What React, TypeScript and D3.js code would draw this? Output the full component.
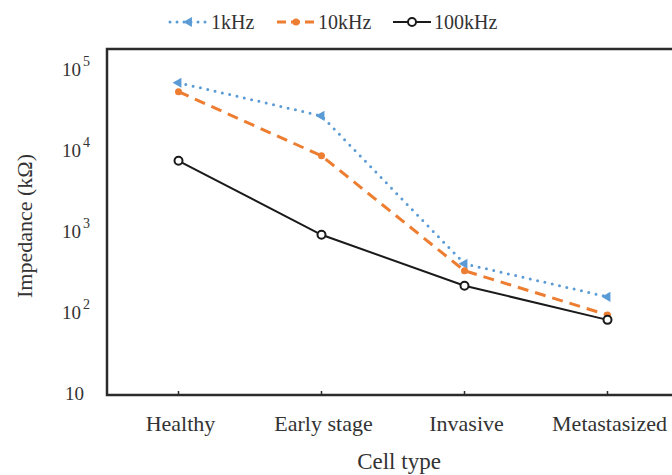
import * as d3 from "d3";

const categories = ["Healthy", "Early stage", "Invasive", "Metastasized"];
const seriesNames = ["1kHz", "10kHz", "100kHz"];
const values1k = [67600, 26400, 394, 154];
const values10k = [52400, 8480, 323, 92];
const values100k = [7360, 898, 211, 80];
const yTicks = [10, 100, 1000, 10000, 100000];

const W = 672;
const H = 475;
const left = 107;
const right = 679;
const top = 49;
const bottom = 395;
const font = "'Liberation Serif', 'Times New Roman', serif";

const x = d3.scalePoint<string>().domain(categories).range([left, right]).padding(0.5);
const y = d3.scaleLog().domain([10, 100000]).range([393, 69]);

const line = d3
  .line<number>()
  .x((_, i) => x(categories[i]) as number)
  .y((d) => y(d));

const styles = [
  { color: "#5b9bd5", width: 3, dash: "0 7.5", cap: "round" },
  { color: "#ed7d31", width: 3, dash: "11 7", cap: "butt" },
  { color: "#1a1a1a", width: 2, dash: "none", cap: "butt" },
];
const series = [values1k, values10k, values100k];

const tri = d3.symbol().type(d3.symbolTriangle).size(45)();

function Marker({ k, cx, cy }: { k: number; cx: number; cy: number }) {
  if (k === 0)
    return <path d={tri as string} transform={`translate(${cx},${cy}) rotate(-90)`} fill="#5b9bd5" />;
  if (k === 1) return <circle cx={cx} cy={cy} r={3.5} fill="#ed7d31" />;
  return <circle cx={cx} cy={cy} r={4} fill="#fff" stroke="#1a1a1a" strokeWidth={2} />;
}

const legendX = [170, 277, 393];

export default function App() {
  return (
    <div style={{ position: "absolute", left: 0, top: 0 }}>
      <svg width={W} height={H} style={{ display: "block", background: "#fff" }}>
        {/* legend */}
        {seriesNames.map((name, k) => (
          <g key={name}>
            <line
              x1={legendX[k]}
              x2={legendX[k] + 38}
              y1={22}
              y2={22}
              stroke={styles[k].color}
              strokeWidth={styles[k].width}
              strokeDasharray={k === 0 ? "0 7" : k === 1 ? "9 5" : "none"}
              strokeLinecap={styles[k].cap as any}
            />
            <Marker k={k} cx={legendX[k] + 19} cy={22} />
            <text x={legendX[k] + 41} y={29} fontFamily={font} fontSize={20} fill="#333">
              {name}
            </text>
          </g>
        ))}

        {/* frame */}
        <rect x={left} y={top} width={right - left + 2} height={bottom - top} fill="none" stroke="#2b2b2b" strokeWidth={2.5} />
        {categories.map((c) => (
          <line key={c} x1={x(c)} x2={x(c)} y1={bottom} y2={bottom - 4} stroke="#2b2b2b" strokeWidth={1.5} />
        ))}

        {/* y tick labels */}
        {yTicks.map((t) => {
          const e = Math.round(Math.log10(t));
          return (
            <text key={t} x={e === 1 ? 84 : 90} y={y(t) + 7} textAnchor="end" fontFamily={font} fontSize={19} fill="#333">
              10
              {e > 1 && (
                <tspan dx={2} dy={-10} fontSize={14}>
                  {e}
                </tspan>
              )}
            </text>
          );
        })}

        {/* x tick labels */}
        {categories.map((c) => (
          <text key={c} x={(x(c) as number) + 2} y={431} textAnchor="middle" fontFamily={font} fontSize={22} fill="#333">
            {c}
          </text>
        ))}

        <text x={399} y={469} textAnchor="middle" fontFamily={font} fontSize={23} fill="#333">
          Cell type
        </text>
        <text transform="translate(32,226) rotate(-90)" textAnchor="middle" fontFamily={font} fontSize={22} fill="#333">
          Impedance (kΩ)
        </text>

        {/* lines */}
        {series.map((vals, k) => (
          <path
            key={k}
            d={line(vals) as string}
            fill="none"
            stroke={styles[k].color}
            strokeWidth={styles[k].width}
            strokeDasharray={styles[k].dash}
            strokeLinecap={styles[k].cap as any}
          />
        ))}
        {series.map((vals, k) =>
          vals.map((v, i) => <Marker key={`${k}-${i}`} k={k} cx={x(categories[i]) as number} cy={y(v)} />)
        )}
      </svg>
    </div>
  );
}
